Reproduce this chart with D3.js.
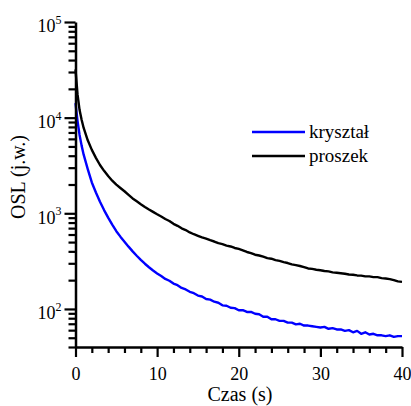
<!DOCTYPE html>
<html>
<head>
<meta charset="utf-8">
<script src="https://cdn.jsdelivr.net/npm/d3@7"></script>
<style>
    body { margin: 0; background: #fff; }
    svg { display: block; }
    text { font-family: "Liberation Serif", "Times New Roman", serif; fill: #000; }
</style>
</head>
<body>
<svg id="chart" width="411" height="406" font-family="Liberation Serif"></svg>
<script>
// time (s)
const times = [0, 0.25, 0.5, 0.75, 1, 1.5, 2, 2.5, 3, 3.5, 4, 4.5, 5, 5.5, 6, 6.5, 7, 7.5, 8, 8.5, 9, 9.5,
    10, 10.5, 11, 11.5, 12, 12.5, 13, 13.5, 14, 14.5, 15, 15.5, 16, 16.5, 17, 17.5, 18, 18.5, 19, 19.5,
    20, 20.5, 21, 21.5, 22, 22.5, 23, 23.5, 24, 24.5, 25, 25.5, 26, 26.5, 27, 27.5, 28, 28.5, 29, 29.5,
    30, 30.5, 31, 31.5, 32, 32.5, 33, 33.5, 34, 34.5, 35, 35.5, 36, 36.5, 37, 37.5, 38, 38.5, 39, 39.5, 40];

const krysztal = [14200, 9200, 6600, 5100, 4100, 2900, 2100, 1650, 1320, 1080, 900, 760, 650, 570, 505, 448, 400, 360, 326, 297, 273, 252,
    235, 221, 206, 197, 184, 177, 166, 160, 151, 146, 138, 135, 127, 125, 119, 116, 109, 108, 103, 102,
    97, 97, 93, 93, 89, 88, 83, 83, 78, 78, 75, 75, 72, 72, 69, 70, 67, 67, 66, 65,
    64, 65, 62, 63, 61, 61, 59, 60, 57, 59, 55, 57, 54, 55, 53, 53, 52, 53, 51, 52, 52];

const proszek = [32000, 17500, 12000, 9500, 7800, 5800, 4600, 3800, 3200, 2780, 2450, 2190, 1995, 1840, 1700, 1560, 1430, 1335, 1245, 1165, 1096, 1035,
    977, 925, 871, 830, 776, 740, 697, 668, 631, 604, 582, 560, 543, 523, 507, 488, 476, 460, 450, 434,
    424, 409, 394, 384, 369, 362, 352, 340, 335, 324, 318, 309, 302, 292, 287, 281, 274, 265, 262, 257,
    254, 249, 247, 241, 239, 236, 233, 229, 228, 224, 223, 219, 219, 215, 215, 210, 208, 205, 200, 194, 192];

const seriesNames = ["kryształ", "proszek"];
const seriesColors = ["#0000ff", "#000000"];

const xMajor = [0, 10, 20, 30, 40];
const xMinor = [2, 4, 6, 8, 12, 14, 16, 18, 22, 24, 26, 28, 32, 34, 36, 38];
const yMajor = [100, 1000, 10000, 100000];
const yExp = ["2", "3", "4", "5"];
const yMinor = [40, 50, 60, 70, 80, 90, 200, 300, 400, 500, 600, 700, 800, 900,
    2000, 3000, 4000, 5000, 6000, 7000, 8000, 9000, 20000, 30000, 40000, 50000, 60000, 70000, 80000, 90000];

const FONT = "Liberation Serif";
const svg = d3.select("#chart");

const x = d3.scaleLinear().domain([0, 40]).range([75.5, 402]);
const y = d3.scaleLog().domain([40, 100000]).range([347, 22]);

// curves
const line = d3.line()
    .x(function (d) { return x(d[0]); })
    .y(function (d) { return y(d[1]); });

[krysztal, proszek].forEach(function (vals, i) {
    svg.append("path")
        .datum(times.map(function (t, j) { return [t, vals[j]]; }))
        .attr("fill", "none")
        .attr("stroke", seriesColors[i])
        .attr("stroke-width", 2.4)
        .attr("stroke-linejoin", "round")
        .attr("d", line);
});

// x axis
const gx = svg.append("g").attr("transform", "translate(0,347)");
gx.append("g")
    .call(d3.axisBottom(x).tickValues(xMinor).tickSize(6).tickFormat(""))
    .call(function (g) { g.select(".domain").remove(); });
gx.append("g")
    .call(d3.axisBottom(x).tickValues(xMajor).tickSize(10).tickSizeOuter(0).tickPadding(10))
    .attr("font-family", FONT)
    .call(function (g) {
        g.select(".domain").attr("stroke-width", 2.5);
        g.selectAll("text").attr("font-family", FONT).style("font-size", "18px");
    });
gx.selectAll(".tick line").attr("stroke-width", 2.2);

// y axis
const gy = svg.append("g").attr("transform", "translate(75.5,0)");
gy.append("g")
    .call(d3.axisLeft(y).tickValues(yMinor).tickSize(7).tickFormat(""))
    .call(function (g) { g.select(".domain").remove(); });
const gyMaj = gy.append("g")
    .call(d3.axisLeft(y).tickValues(yMajor).tickSize(11).tickSizeOuter(0).tickPadding(3))
    .attr("font-family", FONT)
    .call(function (g) { g.select(".domain").attr("stroke-width", 2.5); });
gy.selectAll(".tick line").attr("stroke-width", 2.2);

gyMaj.selectAll(".tick text").each(function (d, i) {
    const t = d3.select(this)
        .text(null)
        .attr("font-family", FONT)
        .attr("dy", "0.55em")
        .style("font-size", "18px");
    t.append("tspan").text("10");
    t.append("tspan").attr("dy", "-0.7em").style("font-size", "12px").text(yExp[i]);
});

// axis titles
svg.append("text")
    .attr("x", 240)
    .attr("y", 401)
    .attr("text-anchor", "middle")
    .attr("font-family", FONT)
    .style("font-size", "20px")
    .text("Czas (s)");

svg.append("text")
    .attr("transform", "translate(25,177) rotate(-90)")
    .attr("text-anchor", "middle")
    .attr("font-family", FONT)
    .style("font-size", "20px")
    .text("OSL (j.w.)");

// legend
const legend = svg.append("g");
seriesNames.forEach(function (name, i) {
    const ly = 132 + i * 24;
    legend.append("line")
        .attr("x1", 252).attr("x2", 305)
        .attr("y1", ly).attr("y2", ly)
        .attr("stroke", seriesColors[i])
        .attr("stroke-width", 2.6);
    legend.append("text")
        .attr("x", 309)
        .attr("y", ly + 6)
        .attr("font-family", FONT)
        .style("font-size", "19px")
        .text(name);
});
</script>
</body>
</html>
